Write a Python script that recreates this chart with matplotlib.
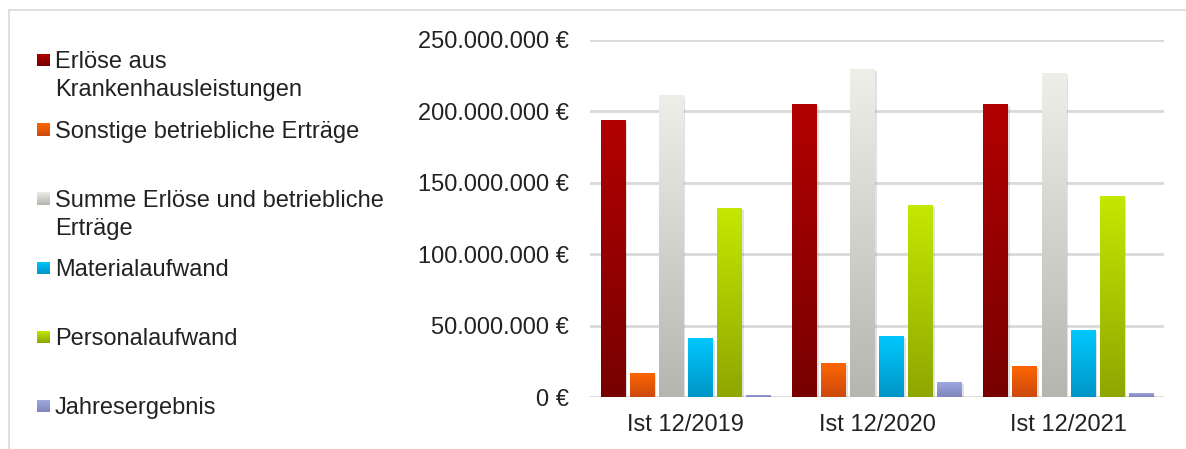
import numpy as np
import matplotlib
matplotlib.use("Agg")
import matplotlib.pyplot as plt
from matplotlib.patches import Rectangle
from matplotlib.ticker import FuncFormatter
import matplotlib.patheffects as pe
from matplotlib.colors import to_rgb

plt.rcParams['font.family'] = ['Liberation Sans', 'DejaVu Sans']

# data (EUR)
years = ['Ist 12/2019', 'Ist 12/2020', 'Ist 12/2021']
erloese_kh = [194e6, 205e6, 205e6]
sonstige = [17e6, 24e6, 22e6]
summe = [211.5e6, 229.5e6, 227e6]
material = [41.5e6, 43e6, 47e6]
personal = [132.5e6, 134.5e6, 141e6]
jahresergebnis = [1.5e6, 10.7e6, 3e6]

labels = ['Erlöse aus\nKrankenhausleistungen', 'Sonstige betriebliche Erträge',
          'Summe Erlöse und betriebliche\nErträge', 'Materialaufwand',
          'Personalaufwand', 'Jahresergebnis']
series = [erloese_kh, sonstige, summe, material, personal, jahresergebnis]
# (top colour, bottom colour) for the vertical gradients
grads = [('#b20000', '#780000'), ('#ff6600', '#cc4a0e'), ('#efefea', '#b6b6b0'),
         ('#00c8ff', '#0096c6'), ('#c4e800', '#8fa600'), ('#a2aae2', '#7f86be')]

text_col = '#222222'
fs = 17
W, H = 1186, 449


def gradient(top, bot, n=128):
    t = np.array(to_rgb(top))
    b = np.array(to_rgb(bot))
    g = np.linspace(0, 1, n)[:, None, None]
    return b + (t - b) * g


fig = plt.figure(figsize=(W / 100, H / 100), dpi=100)
ax = fig.add_axes([590 / W, 1 - 397.3 / H, 574 / W, 357.5 / H])

x = np.arange(len(years))
step = 0.152
width = 0.128
offsets = (np.arange(len(series)) - (len(series) - 1) / 2) * step

ax.set_axisbelow(True)
ax.yaxis.grid(True, color='#d9d9d9', linewidth=2)

for i, vals in enumerate(series):
    top, bot = grads[i]
    bars = ax.bar(x + offsets[i], vals, width, color=bot, zorder=2,
                  path_effects=[pe.SimplePatchShadow(offset=(1.5, -1.5), shadow_rgbFace='#888888', alpha=0.25),
                                pe.Normal()])
    img = gradient(top, bot)
    for bar in bars:
        bx, bw, bh = bar.get_x(), bar.get_width(), bar.get_height()
        im = ax.imshow(img, extent=[bx, bx + bw, 0, bh], origin='lower',
                       aspect='auto', zorder=3, interpolation='bilinear')
        im.set_clip_path(bar)

ax.set_xlim(-0.5, 2.5)
ax.set_ylim(0, 250e6)
ax.set_yticks(np.arange(0, 250e6 + 1, 50e6))
ax.yaxis.set_major_formatter(FuncFormatter(lambda v, p: f"{int(v):,}".replace(",", ".") + " €"))
ax.set_xticks(x)
ax.set_xticklabels(years)
ax.tick_params(axis='y', length=0, pad=15, labelsize=fs, labelcolor=text_col)
ax.tick_params(axis='x', length=0, pad=12, labelsize=fs, labelcolor=text_col)
for s in ax.spines.values():
    s.set_visible(False)

# legend drawn by hand on the left
row_y = [60, 130, 199, 268, 337, 406]
line_h = 28
cap = 0.716 * fs * 100 / 72
for i, lab in enumerate(labels):
    top, bot = grads[i]
    sq = fig.add_axes([37 / W, 1 - (row_y[i] + 6.5) / H, 13 / W, 13 / H])
    sq.imshow(gradient(top, bot, 16), origin='lower', aspect='auto')
    sq.axis('off')
    for j, line in enumerate(lab.split('\n')):
        base = row_y[i] + cap / 2 + j * line_h
        fig.text(55 / W, 1 - base / H, line, fontsize=fs, color=text_col,
                 va='baseline', ha='left')

# light frame
fig.patches.append(Rectangle((9 / W, -0.1), 1.2, 1.1 - 10 / H, transform=fig.transFigure,
                             fill=False, edgecolor='#d9d9d9', linewidth=1.2))

fig.savefig('out.png', dpi=100)
